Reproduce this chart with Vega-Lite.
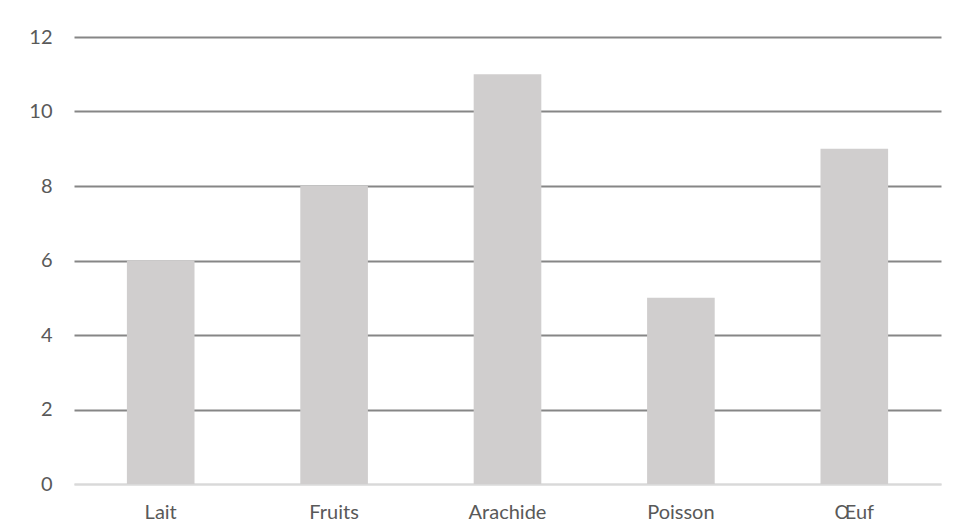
{
  "$schema": "https://vega.github.io/schema/vega-lite/v6.json",
  "autosize": "none",
  "padding": {"left": 74, "top": 37, "right": 17, "bottom": 46},
  "width": 867,
  "height": 447,
  "background": "white",
  "config": {"view": {"stroke": null}, "font": "Lato"},
  "data": {"values": [
    {"aliment": "Lait", "valeur": 6},
    {"aliment": "Fruits", "valeur": 8},
    {"aliment": "Arachide", "valeur": 11},
    {"aliment": "Poisson", "valeur": 5},
    {"aliment": "Œuf", "valeur": 9}
  ]},
  "mark": {"type": "bar", "color": "#d0cece"},
  "encoding": {
    "x": {
      "field": "aliment", "type": "nominal", "sort": null,
      "scale": {"paddingInner": 0.61, "paddingOuter": 0.305},
      "axis": {"title": null, "labelAngle": 0, "domain": true, "domainColor": "#d9d9d9", "domainWidth": 2, "ticks": false, "labelPadding": 18, "labelFontSize": 20, "labelColor": "#595959", "labelFont": "Lato"}
    },
    "y": {
      "field": "valeur", "type": "quantitative",
      "scale": {"domain": [0, 12]},
      "axis": {"title": null, "values": [0, 2, 4, 6, 8, 10, 12], "domain": false, "ticks": false, "labelPadding": 22, "labelFontSize": 20, "labelColor": "#595959", "labelFont": "Lato",
        "gridColor": {"condition": {"test": "datum.value === 0", "value": "#d9d9d9"}, "value": "#868686"}, "gridWidth": 2}
    }
  }
}
